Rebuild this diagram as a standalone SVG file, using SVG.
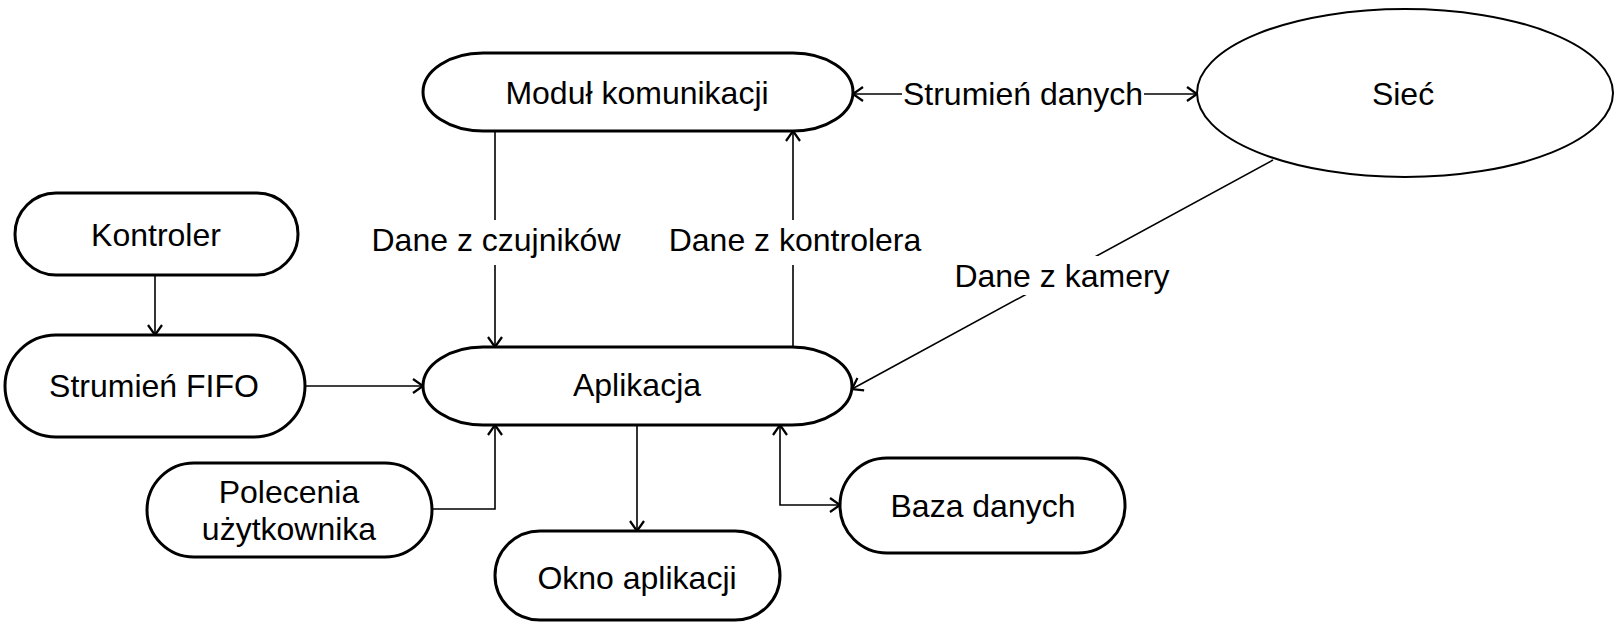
<svg xmlns="http://www.w3.org/2000/svg" width="1619" height="636" viewBox="0 0 1619 636">
<style>
.node{fill:#fff;stroke:#000;stroke-width:3}
.ell{fill:#fff;stroke:#000;stroke-width:2}
.t{font-family:"Liberation Sans",Arial,sans-serif;font-size:32px;fill:#000;text-anchor:middle}
.c{fill:none;stroke:#000;stroke-width:1.6}
.lb{fill:#fff;stroke:none}
</style>
<defs>
<marker id="arr" markerUnits="userSpaceOnUse" markerWidth="14" markerHeight="16" viewBox="0 0 14 16" refX="12" refY="8" orient="auto-start-reverse">
<path d="M2,1 L12,8 L2,15" fill="none" stroke="#000" stroke-width="2.2"/>
</marker>
</defs>
<rect width="1619" height="636" fill="#fff"/>
<g id="connectors">
<path class="c" d="M495,131 V347" marker-end="url(#arr)"/>
<path class="c" d="M793,347 V131" marker-end="url(#arr)"/>
<path class="c" d="M853,94 H1197" marker-start="url(#arr)" marker-end="url(#arr)"/>
<path class="c" d="M1273,160 L852,389" marker-end="url(#arr)"/>
<path class="c" d="M155,275 V335" marker-end="url(#arr)"/>
<path class="c" d="M305,386 H423" marker-end="url(#arr)"/>
<path class="c" d="M432,509 H495 V425" marker-end="url(#arr)"/>
<path class="c" d="M637,425 V531" marker-end="url(#arr)"/>
<path class="c" d="M780,425 V505 H840" marker-start="url(#arr)" marker-end="url(#arr)"/>
<rect class="lb" x="370" y="220" width="252" height="45"/>
<text class="t" x="496" y="251">Dane z czujników</text>
<rect class="lb" x="668" y="220" width="254" height="45"/>
<text class="t" x="795" y="251">Dane z kontrolera</text>
<rect class="lb" x="902" y="76" width="242" height="38"/>
<text class="t" x="1023" y="105">Strumień danych</text>
<rect class="lb" x="954" y="256" width="216" height="39"/>
<text class="t" x="1062" y="287">Dane z kamery</text>
</g>
<g id="modul">
<rect class="node" x="423" y="53" width="430" height="78" rx="60" ry="39"/>
<text class="t" x="637" y="104">Moduł komunikacji</text>
</g>
<g id="siec">
<ellipse class="ell" cx="1405" cy="93" rx="208" ry="84"/>
<text class="t" x="1403" y="105">Sieć</text>
</g>
<g id="kontroler">
<rect class="node" x="15" y="193" width="283" height="82" rx="41" ry="41"/>
<text class="t" x="156" y="246">Kontroler</text>
</g>
<g id="fifo">
<rect class="node" x="5" y="335" width="300" height="102" rx="51" ry="51"/>
<text class="t" x="154" y="397">Strumień FIFO</text>
</g>
<g id="aplikacja">
<rect class="node" x="423" y="347" width="429" height="78" rx="60" ry="39"/>
<text class="t" x="637" y="396">Aplikacja</text>
</g>
<g id="polecenia">
<rect class="node" x="147" y="463" width="285" height="94" rx="47" ry="47"/>
<text class="t" x="289" y="503">Polecenia</text>
<text class="t" x="289" y="540">użytkownika</text>
</g>
<g id="okno">
<rect class="node" x="495" y="531" width="285" height="89" rx="45" ry="45"/>
<text class="t" x="637" y="589">Okno aplikacji</text>
</g>
<g id="baza">
<rect class="node" x="840" y="458" width="285" height="95" rx="47" ry="47"/>
<text class="t" x="983" y="517">Baza danych</text>
</g>
</svg>
